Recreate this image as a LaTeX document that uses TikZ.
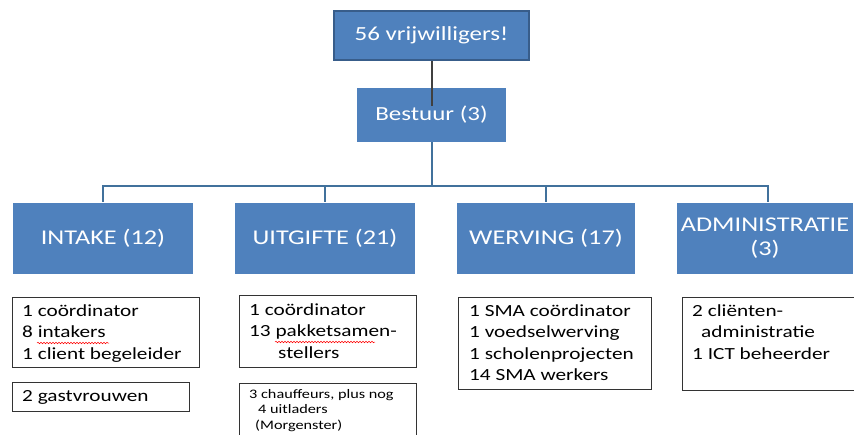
\documentclass[tikz,border=0pt]{standalone}
\usepackage{fontspec}
\setmainfont[FakeStretch=1.25]{Carlito}
\usetikzlibrary{decorations.pathmorphing}
\definecolor{boxblue}{HTML}{4F81BD}
\definecolor{darkblue}{HTML}{385D8A}
\definecolor{linkblue}{HTML}{41719C}
\definecolor{darkgray}{HTML}{404040}
\begin{document}
\begin{tikzpicture}[x=1pt,y=-1pt,
  bluebox/.style={fill=boxblue, draw=none, minimum width=#1, inner sep=0pt, text=white, font=\fontsize{21}{24}\selectfont},
  topbox/.style={fill=boxblue, draw=darkblue, line width=2pt, inner sep=0pt, text=white, font=\fontsize{20}{24}\selectfont},
  listbox/.style={draw=black!80, line width=0.8pt, inner sep=0pt},
  listtext/.style={anchor=north west, inner sep=0pt, align=left, font=\fontsize{17}{21.5}\selectfont},
  smalltext/.style={anchor=north west, inner sep=0pt, align=left, font=\fontsize{13}{15.5}\selectfont},
  branch/.style={draw=linkblue, line width=2.8pt},
  spell/.style={draw=red, line width=0.5pt, decorate, decoration={snake, amplitude=0.8pt, segment length=3pt}}
]
\useasboundingbox (0,0) rectangle (854,434);
% top level
\node[topbox, minimum width=195pt, minimum height=49pt] (top) at (431.5,35.5) {56 vrijwilligers!};
\node[bluebox=149pt, minimum height=54pt, font=\fontsize{20}{24}\selectfont] (bestuur) at (431.5,115) {Bestuur (3)};
\coordinate (mid) at (432,106);
\draw[darkgray, line width=1.6pt] (top.south -| mid) -- (mid);
% second level
\node[bluebox=180pt, minimum height=71pt] (intake) at (103,238.5) {INTAKE (12)};
\node[bluebox=180pt, minimum height=71pt] (uitgifte) at (325,238.5) {UITGIFTE (21)};
\node[bluebox=178pt, minimum height=71pt] (werving) at (546,238.5) {WERVING (17)};
\node[bluebox=176pt, minimum height=71pt, align=center] (admin) at (765,238.5) {ADMINISTRATIE\\(3)};
% connectors
\coordinate (hub) at (432,186);
\draw[branch] (bestuur.south -| mid) -- (hub);
\draw[branch] (intake.north) ++(0,-1) |- (hub);
\draw[branch] (uitgifte.north) ++(0,-1) -- (uitgifte.north |- hub);
\draw[branch] (werving.north) ++(0,-1) -- (werving.north |- hub);
\draw[branch] (admin.north) ++(3,-1) |- (hub);
% third level boxes
\node[listbox, minimum width=187pt, minimum height=70pt] (intakelist) at (105.5,332) {};
\node[listtext] (intaketext) at (22,304) {1 coördinator\\8 intakers\\1 client begeleider};
\node[listbox, minimum width=177pt, minimum height=29pt] (gast) at (100.5,396.5) {};
\node[listtext, anchor=west] (gasttext) at (22,397) {2 gastvrouwen};
\node[listbox, minimum width=177pt, minimum height=72pt] (uitlist) at (327.5,331) {};
\node[listtext] (uittext) at (249,303) {1 coördinator\\13 pakketsamen-\\\hspace*{29pt}stellers};
\node[listbox, minimum width=177pt, minimum height=70pt] (chauf) at (327.5,418) {};
\node[smalltext] (chauftext) at (249,389) {3 chauffeurs, plus nog\\\hspace*{9pt}4 uitladers\\\hspace*{6pt}(Morgenster)};
\node[listbox, minimum width=193pt, minimum height=92pt] (werflist) at (554.5,343) {};
\node[listtext] (werftext) at (469,304) {1 SMA coördinator\\1 voedselwerving\\1 scholenprojecten\\14 SMA werkers};
\node[listbox, minimum width=190pt, minimum height=93pt] (adminlist) at (777,343.5) {};
\node[listtext] (admintext) at (692,304) {2 cliënten-\\\hspace*{9pt}administratie\\1 ICT beheerder};
% spelling marks
\draw[spell] (37,343) -- (109,343);
\draw[spell] (275,342) -- (375,342);
\end{tikzpicture}
\end{document}
